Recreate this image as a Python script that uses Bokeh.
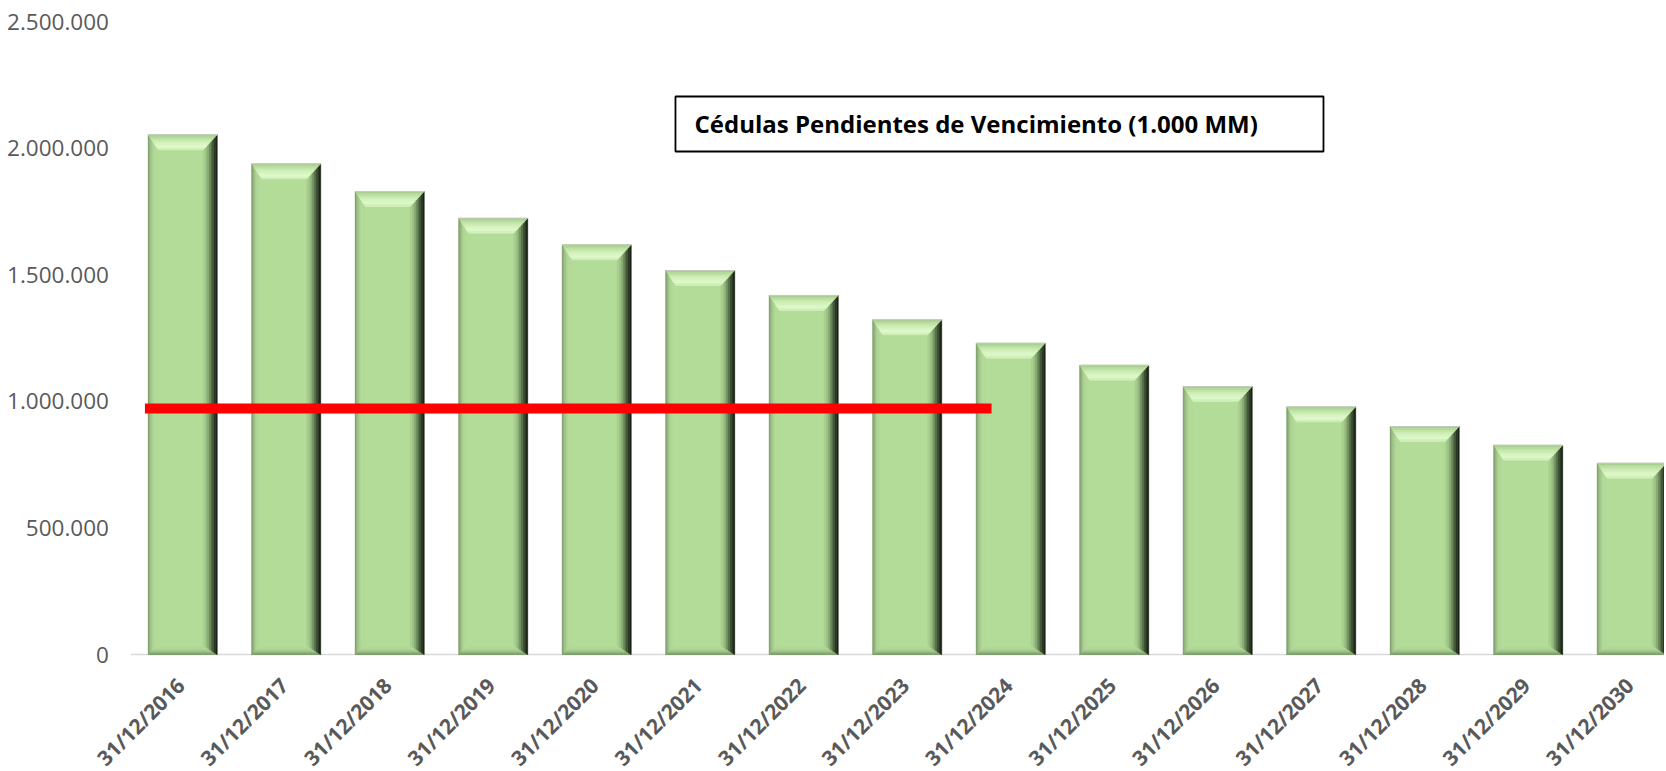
import math
import numpy as np
from bokeh.plotting import figure
from bokeh.models import Range1d, ColumnDataSource, Label, BoxAnnotation
from bokeh.core.properties import value
from bokeh.embed import file_html
from bokeh.resources import INLINE

# ---------------- data ----------------
categories = ["31/12/2016", "31/12/2017", "31/12/2018", "31/12/2019", "31/12/2020",
              "31/12/2021", "31/12/2022", "31/12/2023", "31/12/2024", "31/12/2025",
              "31/12/2026", "31/12/2027", "31/12/2028", "31/12/2029", "31/12/2030"]
balances = [2052500, 1938000, 1828600, 1723000, 1618000,
            1516600, 1418000, 1322000, 1229500, 1142600,
            1058500, 978000, 900500, 826600, 755500]
threshold_value = [971600, 971600]
threshold_span = [-0.365, 7.815]
y_ticks = [0, 500000, 1000000, 1500000, 2000000, 2500000]
y_tick_labels = ["0", "500.000", "1.000.000", "1.500.000", "2.000.000", "2.500.000"]
title_text = "Cédulas Pendientes de Vencimiento (1.000 MM)"

# ---------------- layout ----------------
W, H = 1664, 769
top_pad_px = 21                   # space above the 2.500.000 level
plot_h = 633                      # pixels from 0 to 2.500.000
cat_px = 103.5
first_center_px = 182.2
x_start = -first_center_px / cat_px
x_end = x_start + W / cat_px
y_max = 2500000
px_x = 1.0 / cat_px
px_y = y_max / plot_h
y_end = y_max + top_pad_px * px_y
y_start = -(H - top_pad_px - plot_h) * px_y   # room below zero for the rotated category labels

p = figure(width=W, height=H, output_backend="svg", toolbar_location=None,
           x_range=Range1d(x_start, x_end), y_range=Range1d(y_start, y_end),
           x_axis_location=None, y_axis_location=None,
           min_border_left=0, min_border_right=0, min_border_top=0, min_border_bottom=0)
p.outline_line_color = None
p.background_fill_color = "white"
p.border_fill_color = "white"
p.xgrid.visible = False
p.ygrid.visible = False

xs_c = np.arange(len(balances), dtype=float)
vals = np.array(balances, dtype=float)
half = 0.3333

# ---------------- category axis line ----------------
p.segment(x0=[xs_c[0] - 0.5], x1=[x_end], y0=[0], y1=[0], line_color="#d9d9d9", line_width=1.5)

# ---------------- bars with bevel ----------------
main_col = "#b3dc99"
p.vbar(x=xs_c, top=vals, width=2 * half, bottom=0, fill_color=main_col, line_color=None)

Lw, Rw, Tw, Bw = 10 * px_x, 14 * px_x, 15 * px_y, 9 * px_y
top_cols = ["#a9cd90", "#b6da9c", "#c1e4a8", "#cbecb3", "#d4f2bd", "#dbf7c6", "#dff9cb", "#d2f1bb"]
right_cols = ["#1a2117", "#2a3625", "#3e5037", "#56704a", "#71905f", "#8aad76", "#9cc186", "#a9d090"]
left_cols = ["#7f9d6c", "#93b47f", "#a2c58b", "#abd093", "#b0d797", "#b2da98", "#b3dc99", "#b3dc99"]
bot_cols = ["#718e60", "#86a572", "#97ba82", "#a3c88c", "#abd193", "#afd697", "#b2da98", "#b3dc99"]

pxs, pys, pcols = [], [], []
for i, v in enumerate(vals):
    l, r, t, b = xs_c[i] - half, xs_c[i] + half, v, 0.0
    n = len(top_cols)
    for k in range(n):
        f0, f1 = k / n, (k + 1) / n
        pxs.append([l + f0 * Lw, r - f0 * Rw, r - f1 * Rw, l + f1 * Lw])
        pys.append([b + f0 * Bw, b + f0 * Bw, b + f1 * Bw, b + f1 * Bw])
        pcols.append(bot_cols[k])
        pxs.append([l + f0 * Lw, l + f0 * Lw, l + f1 * Lw, l + f1 * Lw])
        pys.append([t - f0 * Tw, b + f0 * Bw, b + f1 * Bw, t - f1 * Tw])
        pcols.append(left_cols[k])
        pxs.append([r - f0 * Rw, r - f0 * Rw, r - f1 * Rw, r - f1 * Rw])
        pys.append([t - f0 * Tw, b + f0 * Bw, b + f1 * Bw, t - f1 * Tw])
        pcols.append(right_cols[k])
        pxs.append([l + f0 * Lw, r - f0 * Rw, r - f1 * Rw, l + f1 * Lw])
        pys.append([t - f0 * Tw, t - f0 * Tw, t - f1 * Tw, t - f1 * Tw])
        pcols.append(top_cols[k])

src = ColumnDataSource(dict(xs=pxs, ys=pys, c=pcols))
p.patches(xs="xs", ys="ys", fill_color="c", line_color="c", line_width=0.6, source=src)
p.segment(x0=xs_c - half, x1=xs_c + half, y0=vals, y1=vals, line_color="#c3cbbd", line_width=1)

# ---------------- threshold line ----------------
p.line(x=threshold_span, y=threshold_value, line_color="#ff0000", line_width=10, line_cap="butt")

# ---------------- rotated category labels ----------------
lab_src = ColumnDataSource(dict(x=xs_c - 2 * px_x, y=np.full(len(categories), -27 * px_y),
                                text=categories))
p.text(x="x", y="y", text="text", source=lab_src, angle=math.pi / 4,
       text_align="right", text_baseline="middle",
       text_font=value("Open Sans"), text_font_style="bold",
       text_font_size="21px", text_color="#595959")

# ---------------- value axis labels ----------------
ylab_src = ColumnDataSource(dict(x=np.full(len(y_ticks), xs_c[0] - 0.5 - 22 * px_x),
                                 y=y_ticks, text=y_tick_labels))
p.text(x="x", y="y", text="text", source=ylab_src, text_align="right", text_baseline="middle",
       text_font=value("Open Sans"), text_font_size="22.5px", text_color="#595959")

# ---------------- title box ----------------
box = BoxAnnotation(left=4.761, right=11.022, top=2203800, bottom=1986600,
                    fill_color="white", fill_alpha=1.0, line_color="black", line_alpha=1.0,
                    line_width=1.8)
p.add_layout(box)
lab = Label(x=4.945, y=2097200, text=title_text, text_baseline="middle", text_align="left",
            text_font="Open Sans", text_font_style="bold", text_font_size="24px", text_color="black")
p.add_layout(lab)

open("out.html", "w").write(file_html(p, INLINE))
